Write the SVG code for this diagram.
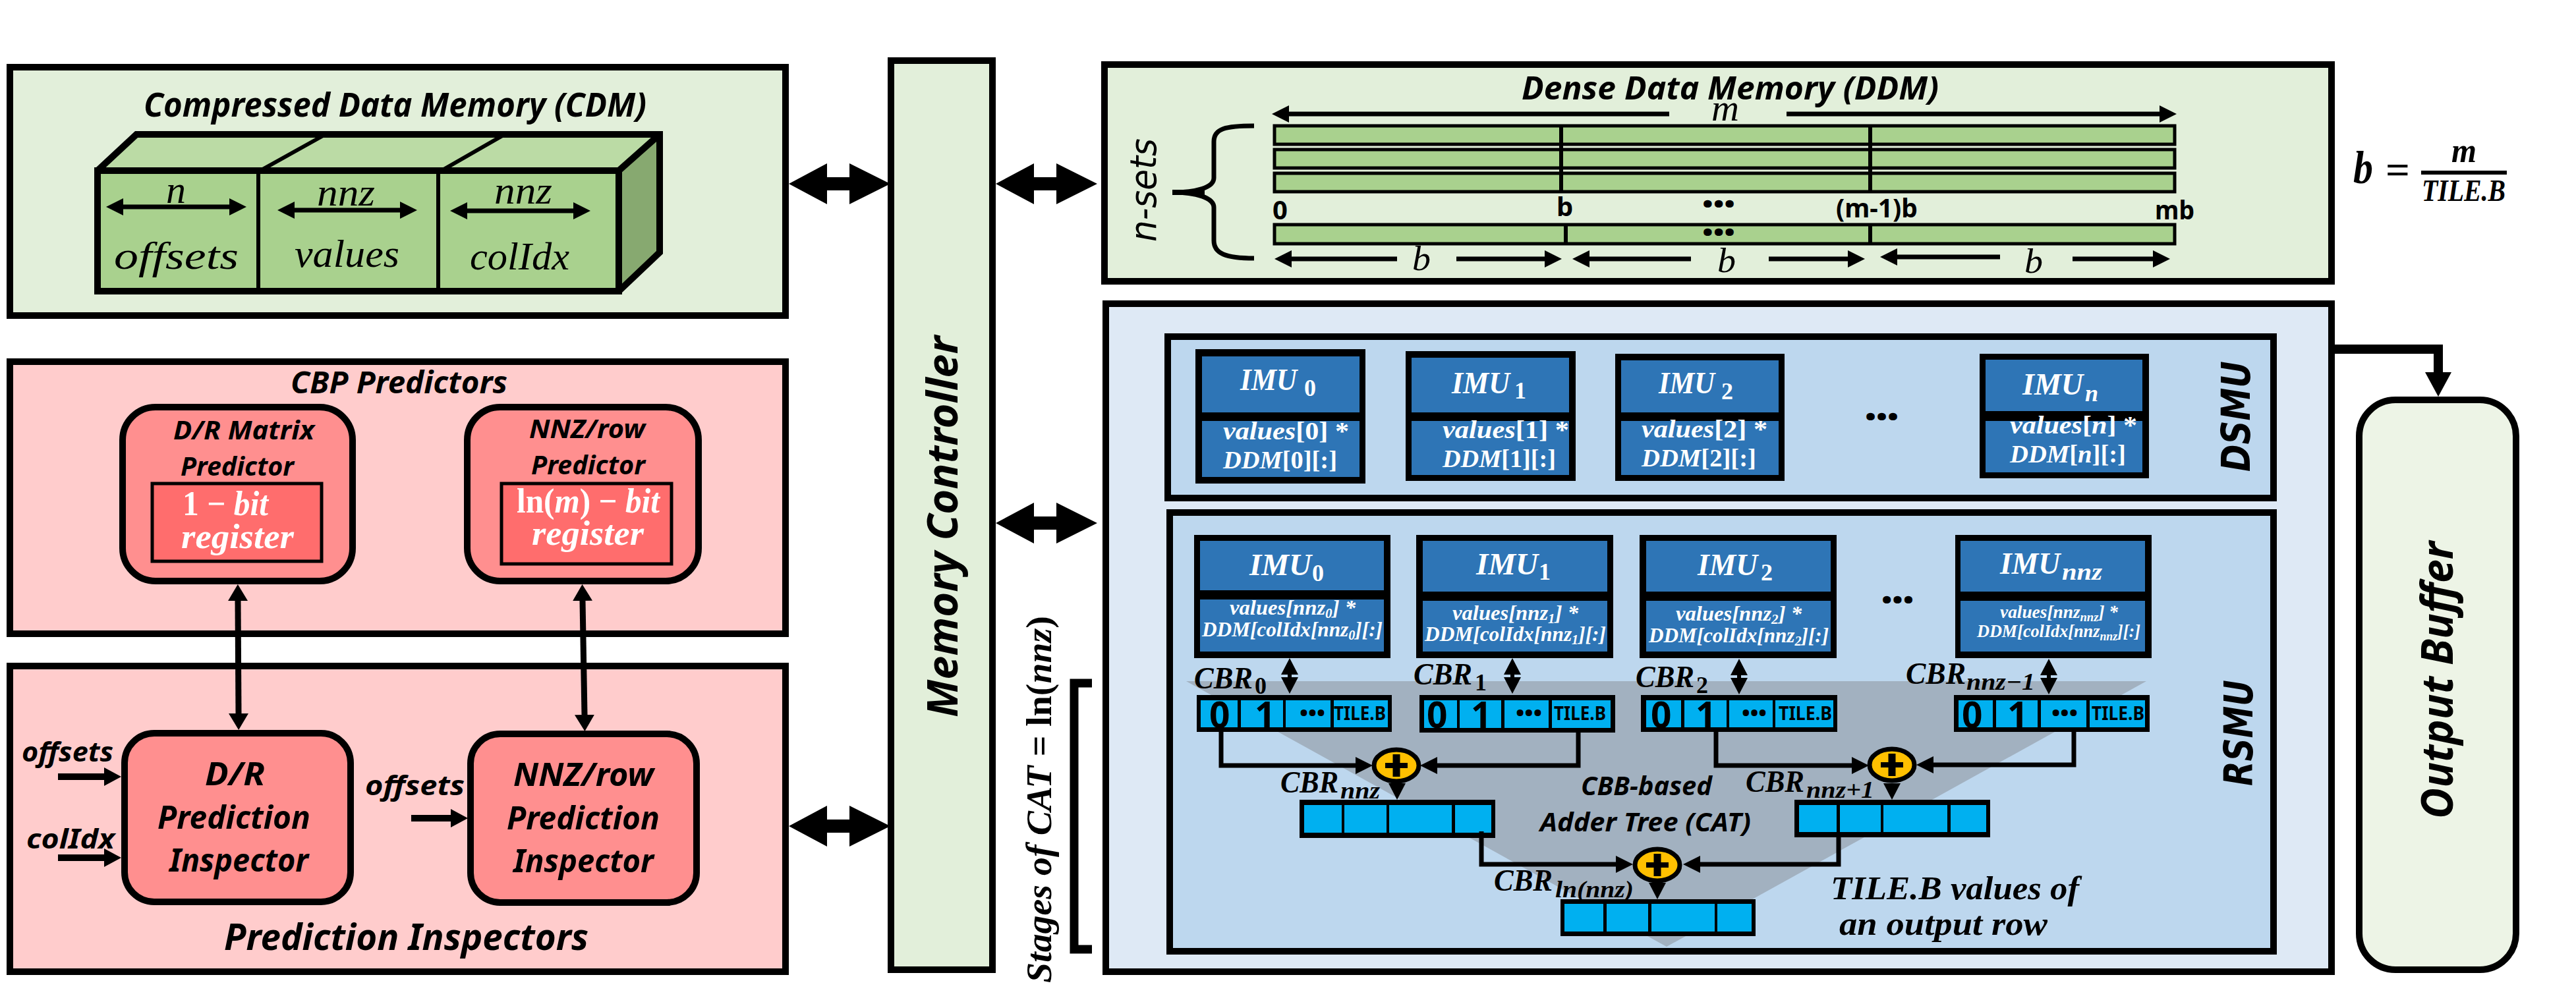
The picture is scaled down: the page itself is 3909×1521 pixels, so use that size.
<svg xmlns="http://www.w3.org/2000/svg" width="3909" height="1521" viewBox="0 0 3909 1521">
<style>
text{fill:#000}
.t{font-family:"Noto Sans","Open Sans",sans-serif;font-weight:700;font-style:italic}
.u{font-family:"Noto Sans","Open Sans",sans-serif;font-weight:700}
.m{font-family:"Liberation Serif",serif;font-weight:700;font-style:italic}
.r{font-family:"Liberation Serif",serif;font-style:italic}
.n{font-style:normal}
text.w,.w text{fill:#fff}
.g{fill:#E2EFDA;stroke:#000;stroke-width:10}
.p{fill:#FFCCCC;stroke:#000;stroke-width:10}
.pi{fill:#FF8F8F;stroke:#000;stroke-width:10}
.reg{fill:#FF6D6D;stroke:#000;stroke-width:5}
.bo{fill:#DEE9F5;stroke:#000;stroke-width:10}
.bi{fill:#BDD7EE;stroke:#000;stroke-width:10}
.k{fill:#000}
.im{fill:#2E75B6}
.c{fill:#00B0F0}
.bar{fill:#A9D18E;stroke:#000;stroke-width:5}
.l{stroke:#000;fill:none}
.add{fill:#FFC000;stroke:#000;stroke-width:7}
</style>
<defs>
<marker id="ah" markerUnits="userSpaceOnUse" viewBox="0 0 26 26" refX="0" refY="13" markerWidth="26" markerHeight="26" orient="auto-start-reverse"><path d="M0 0L26 13L0 26Z"/></marker>
<marker id="ap" markerUnits="userSpaceOnUse" viewBox="0 0 25 30" refX="0" refY="15" markerWidth="25" markerHeight="30" orient="auto-start-reverse"><path d="M0 0L25 15L0 30Z"/></marker>
<marker id="as" markerUnits="userSpaceOnUse" viewBox="0 0 26 28" refX="0" refY="14" markerWidth="26" markerHeight="28" orient="auto"><path d="M0 0L26 14L0 28Z"/></marker>
<marker id="ao" markerUnits="userSpaceOnUse" viewBox="0 0 37 40" refX="0" refY="20" markerWidth="37" markerHeight="40" orient="auto"><path d="M0 0L37 20L0 40Z"/></marker>
<path id="bigdbl" d="M0 0L58-31V-10H92V-31L154 0L92 31V10H58V31Z"/>
<path id="vdbl" d="M0 0L13 25H3V29H13L0 54L-13 29H-3V25H-13Z"/>
<path id="dn" d="M-13-25H13L0 0Z"/>
<path id="plus" d="M-5.5-17H5.5V-4H17V4H5.5V17H-5.5V4H-17V-4H-5.5Z"/>
</defs>
<rect width="3909" height="1521" fill="#fff"/>

<g id="cdm">
<rect class="g" x="15" y="102" width="1177" height="377"/>
<text class="t" x="218" y="177" font-size="50" textLength="763" lengthAdjust="spacingAndGlyphs">Compressed Data Memory (CDM)</text>
<path d="M148 442V262L207 204H1001L940 262V442Z" fill="#A9D18E"/>
<path d="M148 262L207 204H1001L940 262Z" fill="#BBDBA5"/>
<path d="M940 262L1001 204V382L940 442Z" fill="#87A970"/>
<path class="l" stroke-width="10" d="M148 442V259H939V442ZM148 259L207 204H1001V383L939 442M939 259L1001 204"/>
<path class="l" stroke-width="6" d="M392 259V442M665 259V442M395 259L492 205M670 259L764 205"/>
<path class="l" stroke-width="7" marker-start="url(#ah)" marker-end="url(#ah)" d="M187 314H348"/>
<path class="l" stroke-width="7" marker-start="url(#ah)" marker-end="url(#ah)" d="M447 319H607"/>
<path class="l" stroke-width="7" marker-start="url(#ah)" marker-end="url(#ah)" d="M709 320H870"/>
<text class="r" x="252" y="308" font-size="60" textLength="30" lengthAdjust="spacingAndGlyphs">n</text>
<text class="r" x="481" y="312" font-size="60" textLength="88" lengthAdjust="spacingAndGlyphs">nnz</text>
<text class="r" x="750" y="309" font-size="60" textLength="88" lengthAdjust="spacingAndGlyphs">nnz</text>
<text class="r" x="173" y="408" font-size="60" textLength="189" lengthAdjust="spacingAndGlyphs">offsets</text>
<text class="r" x="447" y="405" font-size="60" textLength="159" lengthAdjust="spacingAndGlyphs">values</text>
<text class="r" x="713" y="409" font-size="60" textLength="151" lengthAdjust="spacingAndGlyphs">colIdx</text>
</g>

<g id="cbp-predictors">
<rect class="p" x="15" y="549" width="1177" height="413"/>
<text class="t" x="441" y="597" font-size="46" textLength="329" lengthAdjust="spacingAndGlyphs">CBP Predictors</text>
</g>
<g id="dr-predictor">
<rect class="pi" x="186" y="618" width="349" height="264" rx="50"/>
<text class="t" x="263" y="667" font-size="40" textLength="214" lengthAdjust="spacingAndGlyphs">D/R Matrix</text>
<text class="t" x="274" y="722" font-size="40" textLength="172" lengthAdjust="spacingAndGlyphs">Predictor</text>
<rect class="reg" x="231" y="734" width="257" height="118"/>
<text class="m w" x="277" y="782" font-size="52" textLength="130" lengthAdjust="spacingAndGlyphs"><tspan class="n">1 − </tspan>bit</text>
<text class="m w" x="275" y="832" font-size="52" textLength="171" lengthAdjust="spacingAndGlyphs">register</text>
</g>
<g id="nnz-predictor">
<rect class="pi" x="709" y="618" width="351" height="264" rx="50"/>
<text class="t" x="803" y="665" font-size="40" textLength="176" lengthAdjust="spacingAndGlyphs">NNZ/row</text>
<text class="t" x="806" y="720" font-size="40" textLength="173" lengthAdjust="spacingAndGlyphs">Predictor</text>
<rect class="reg" x="761" y="734" width="258" height="122"/>
<text class="m w" x="784" y="778" font-size="52" textLength="217" lengthAdjust="spacingAndGlyphs"><tspan class="n">ln(</tspan>m<tspan class="n">) − </tspan>bit</text>
<text class="m w" x="807" y="827" font-size="52" textLength="170" lengthAdjust="spacingAndGlyphs">register</text>
</g>

<g id="prediction-inspectors">
<rect class="p" x="15" y="1011" width="1177" height="464"/>
<text class="t" x="340" y="1442" font-size="55" textLength="553" lengthAdjust="spacingAndGlyphs">Prediction Inspectors</text>
<text class="t" x="33" y="1156" font-size="42" textLength="139" lengthAdjust="spacingAndGlyphs">offsets</text>
<text class="t" x="40" y="1288" font-size="42" textLength="134" lengthAdjust="spacingAndGlyphs">colIdx</text>
<text class="t" x="554" y="1207" font-size="42" textLength="151" lengthAdjust="spacingAndGlyphs">offsets</text>
</g>
<g id="dr-inspector">
<rect class="pi" x="189" y="1113" width="343" height="256" rx="45"/>
<text class="t" x="311" y="1192" font-size="49" textLength="91" lengthAdjust="spacingAndGlyphs">D/R</text>
<text class="t" x="239" y="1258" font-size="49" textLength="232" lengthAdjust="spacingAndGlyphs">Prediction</text>
<text class="t" x="257" y="1323" font-size="49" textLength="211" lengthAdjust="spacingAndGlyphs">Inspector</text>
</g>
<g id="nnz-inspector">
<rect class="pi" x="714" y="1114" width="343" height="256" rx="45"/>
<text class="t" x="779" y="1193" font-size="49" textLength="213" lengthAdjust="spacingAndGlyphs">NNZ/row</text>
<text class="t" x="769" y="1259" font-size="49" textLength="232" lengthAdjust="spacingAndGlyphs">Prediction</text>
<text class="t" x="779" y="1324" font-size="49" textLength="213" lengthAdjust="spacingAndGlyphs">Inspector</text>
</g>

<g id="memory-controller">
<rect class="g" x="1352" y="92" width="154" height="1380"/>
<text class="t" transform="rotate(-90 1453 1089)" x="1453" y="1089" font-size="64" textLength="579" lengthAdjust="spacingAndGlyphs">Memory Controller</text>
</g>

<g id="ddm">
<rect class="g" x="1676" y="98" width="1862" height="329"/>
<text class="t" x="2309" y="151" font-size="48" textLength="633" lengthAdjust="spacingAndGlyphs">Dense Data Memory (DDM)</text>
<rect class="bar" x="1934" y="191" width="1366" height="28"/>
<rect class="bar" x="1934" y="227" width="1366" height="28"/>
<rect class="bar" x="1934" y="263" width="1366" height="28"/>
<rect class="bar" x="1934" y="341" width="1366" height="29"/>
<path class="l" stroke-width="6" d="M2369 191V291M2838 191V291M2376 341V370M2838 341V370"/>
<path class="l" stroke-width="7" marker-start="url(#ah)" d="M1956 173H2533"/>
<path class="l" stroke-width="7" marker-end="url(#ah)" d="M2711 173H3277"/>
<text class="r" x="2597" y="183" font-size="56" textLength="42" lengthAdjust="spacingAndGlyphs">m</text>
<path class="l" stroke-width="7" marker-start="url(#ah)" d="M1960 393H2120"/>
<path class="l" stroke-width="7" marker-end="url(#ah)" d="M2210 393H2344"/>
<path class="l" stroke-width="7" marker-start="url(#ah)" d="M2412 393H2566"/>
<path class="l" stroke-width="7" marker-end="url(#ah)" d="M2684 393H2804"/>
<path class="l" stroke-width="7" marker-start="url(#ah)" d="M2879 390H3035"/>
<path class="l" stroke-width="7" marker-end="url(#ah)" d="M3145 393H3267"/>
<text class="r" x="2143" y="410" font-size="52" textLength="28" lengthAdjust="spacingAndGlyphs">b</text>
<text class="r" x="2606" y="413" font-size="52" textLength="28" lengthAdjust="spacingAndGlyphs">b</text>
<text class="r" x="3072" y="414" font-size="52" textLength="28" lengthAdjust="spacingAndGlyphs">b</text>
<text class="u" x="1931" y="333" font-size="40">0</text>
<text class="u" x="2362" y="328" font-size="40">b</text>
<text class="u" x="2583" y="323" font-size="36" textLength="50" lengthAdjust="spacingAndGlyphs">•••</text>
<text class="u" x="2786" y="330" font-size="40" textLength="124" lengthAdjust="spacingAndGlyphs">(m-1)b</text>
<text class="u" x="3270" y="333" font-size="40" textLength="60" lengthAdjust="spacingAndGlyphs">mb</text>
<text class="u" x="2583" y="366" font-size="36" textLength="50" lengthAdjust="spacingAndGlyphs">•••</text>
<path class="l" stroke-width="7" d="M1903 191C1860 191 1842 195 1842 215V270C1842 285 1815 292 1779 292C1815 292 1842 300 1842 315V365C1842 385 1860 392 1903 392"/>
<path d="M1779 288H1828V296H1779Z"/>
<text x="1754" y="367" transform="rotate(-90 1754 367)" font-family="DejaVu Sans" font-style="oblique" font-size="56" textLength="157" lengthAdjust="spacingAndGlyphs">n-sets</text>
</g>

<g id="b-formula">
<text class="m" x="3571" y="278" font-size="70" textLength="30" lengthAdjust="spacingAndGlyphs">b</text>
<text class="m n" x="3620" y="278" font-size="62" textLength="37" lengthAdjust="spacingAndGlyphs">=</text>
<rect x="3674" y="259" width="130" height="6"/>
<text class="m" x="3720" y="246" font-size="52" textLength="38" lengthAdjust="spacingAndGlyphs">m</text>
<text class="m" x="3675" y="305" font-size="46" textLength="127" lengthAdjust="spacingAndGlyphs">TILE.B</text>
</g>

<g id="accelerator">
<rect class="bo" x="1678" y="461" width="1860" height="1014"/>
</g>
<g id="dsmu">
<rect class="bi" x="1772" y="511" width="1678" height="245"/>
<text class="t" style="font-family:'DejaVu Sans'" transform="rotate(-90 3414 716)" x="3414" y="716" font-size="60" textLength="168" lengthAdjust="spacingAndGlyphs">DSMU</text>
<text class="u" x="2830" y="646" font-size="36" textLength="51" lengthAdjust="spacingAndGlyphs">•••</text>
</g>
<g id="dsmu-imu0" class="w">
<rect class="k" x="1814" y="530" width="258" height="204"/>
<rect class="im" x="1824" y="541" width="239" height="85"/><rect class="im" x="1824" y="639" width="239" height="85"/>
<text class="m" y="592" font-size="46"><tspan x="1882" textLength="86" lengthAdjust="spacingAndGlyphs">IMU</tspan><tspan class="n" x="1979" y="601" font-size="36">0</tspan></text>
<text class="m" x="1856" y="667" font-size="38" textLength="191" lengthAdjust="spacingAndGlyphs">values<tspan class="n">[0] *</tspan></text>
<text class="m" x="1856" y="711" font-size="38" textLength="173" lengthAdjust="spacingAndGlyphs">DDM<tspan class="n">[0][:]</tspan></text>
</g>
<g id="dsmu-imu1" class="w">
<rect class="k" x="2133" y="533" width="258" height="197"/>
<rect class="im" x="2142" y="543" width="239" height="83"/><rect class="im" x="2142" y="639" width="239" height="82"/>
<text class="m" y="597" font-size="46"><tspan x="2203" textLength="88" lengthAdjust="spacingAndGlyphs">IMU</tspan><tspan class="n" x="2298" y="605" font-size="36">1</tspan></text>
<text class="m" x="2189" y="665" font-size="38" textLength="192" lengthAdjust="spacingAndGlyphs">values<tspan class="n">[1] *</tspan></text>
<text class="m" x="2189" y="709" font-size="38" textLength="172" lengthAdjust="spacingAndGlyphs">DDM<tspan class="n">[1][:]</tspan></text>
</g>
<g id="dsmu-imu2" class="w">
<rect class="k" x="2451" y="537" width="257" height="193"/>
<rect class="im" x="2460" y="547" width="239" height="79"/><rect class="im" x="2460" y="639" width="239" height="82"/>
<text class="m" y="597" font-size="46"><tspan x="2517" textLength="85" lengthAdjust="spacingAndGlyphs">IMU</tspan><tspan class="n" x="2612" y="606" font-size="36">2</tspan></text>
<text class="m" x="2491" y="664" font-size="38" textLength="191" lengthAdjust="spacingAndGlyphs">values<tspan class="n">[2] *</tspan></text>
<text class="m" x="2491" y="708" font-size="38" textLength="174" lengthAdjust="spacingAndGlyphs">DDM<tspan class="n">[2][:]</tspan></text>
</g>
<g id="dsmu-imun" class="w">
<rect class="k" x="3004" y="537" width="257" height="189"/>
<rect class="im" x="3013" y="546" width="238" height="78"/><rect class="im" x="3013" y="639" width="238" height="78"/>
<text class="m" y="599" font-size="46"><tspan x="3069" textLength="92" lengthAdjust="spacingAndGlyphs">IMU</tspan><tspan x="3164" y="609" font-size="36">n</tspan></text>
<text class="m" x="3050" y="658" font-size="38" textLength="193" lengthAdjust="spacingAndGlyphs">values<tspan class="n">[</tspan>n<tspan class="n">] *</tspan></text>
<text class="m" x="3050" y="702" font-size="38" textLength="176" lengthAdjust="spacingAndGlyphs">DDM<tspan class="n">[</tspan>n<tspan class="n">][:]</tspan></text>
</g>

<g id="rsmu">
<rect class="bi" x="1775" y="778" width="1675" height="666"/>
<path d="M1800 1034H3257L2529 1437Z" fill="#A2B1C0"/>
<text class="t" style="font-family:'DejaVu Sans'" transform="rotate(-90 3418 1193)" x="3418" y="1193" font-size="60" textLength="161" lengthAdjust="spacingAndGlyphs">RSMU</text>
<text class="u" x="2855" y="924" font-size="36" textLength="49" lengthAdjust="spacingAndGlyphs">•••</text>
<text class="t" x="2399" y="1207" font-size="40" textLength="199" lengthAdjust="spacingAndGlyphs">CBB-based</text>
<text class="t" x="2337" y="1262" font-size="40" textLength="320" lengthAdjust="spacingAndGlyphs">Adder Tree (CAT)</text>
<text class="m" x="2778" y="1365" font-size="50" textLength="377" lengthAdjust="spacingAndGlyphs">TILE.B values of</text>
<text class="m" x="2791" y="1419" font-size="50" textLength="316" lengthAdjust="spacingAndGlyphs">an output row</text>
</g>
<g id="rsmu-imu0" class="w">
<rect class="k" x="1812" y="812" width="298" height="187"/>
<rect class="im" x="1821" y="821" width="279" height="75"/><rect class="im" x="1821" y="910" width="279" height="79"/>
<text class="m" y="873" font-size="46"><tspan x="1896" textLength="94" lengthAdjust="spacingAndGlyphs">IMU</tspan><tspan class="n" x="1991" y="882" font-size="36">0</tspan></text>
<text class="m" x="1866" y="933" font-size="31" textLength="191" lengthAdjust="spacingAndGlyphs">values[nnz<tspan dy="5" font-size="20">0</tspan><tspan dy="-5">] *</tspan></text>
<text class="m" x="1824" y="966" font-size="31" textLength="274" lengthAdjust="spacingAndGlyphs">DDM[colIdx[nnz<tspan dy="5" font-size="20">0</tspan><tspan dy="-5">][:]</tspan></text>
</g>
<g id="rsmu-imu1" class="w">
<rect class="k" x="2149" y="812" width="299" height="187"/>
<rect class="im" x="2159" y="821" width="280" height="77"/><rect class="im" x="2159" y="912" width="280" height="77"/>
<text class="m" y="872" font-size="46"><tspan x="2240" textLength="94" lengthAdjust="spacingAndGlyphs">IMU</tspan><tspan class="n" x="2335" y="880" font-size="36">1</tspan></text>
<text class="m" x="2204" y="941" font-size="31" textLength="191" lengthAdjust="spacingAndGlyphs">values[nnz<tspan dy="5" font-size="20">1</tspan><tspan dy="-5">] *</tspan></text>
<text class="m" x="2162" y="973" font-size="31" textLength="275" lengthAdjust="spacingAndGlyphs">DDM[colIdx[nnz<tspan dy="5" font-size="20">1</tspan><tspan dy="-5">][:]</tspan></text>
</g>
<g id="rsmu-imu2" class="w">
<rect class="k" x="2488" y="812" width="299" height="187"/>
<rect class="im" x="2498" y="821" width="280" height="77"/><rect class="im" x="2498" y="912" width="280" height="77"/>
<text class="m" y="873" font-size="46"><tspan x="2576" textLength="91" lengthAdjust="spacingAndGlyphs">IMU</tspan><tspan class="n" x="2672" y="881" font-size="36">2</tspan></text>
<text class="m" x="2543" y="942" font-size="31" textLength="191" lengthAdjust="spacingAndGlyphs">values[nnz<tspan dy="5" font-size="20">2</tspan><tspan dy="-5">] *</tspan></text>
<text class="m" x="2502" y="975" font-size="31" textLength="273" lengthAdjust="spacingAndGlyphs">DDM[colIdx[nnz<tspan dy="5" font-size="20">2</tspan><tspan dy="-5">][:]</tspan></text>
</g>
<g id="rsmu-imunnz" class="w">
<rect class="k" x="2967" y="812" width="298" height="187"/>
<rect class="im" x="2975" y="821" width="280" height="77"/><rect class="im" x="2975" y="912" width="280" height="77"/>
<text class="m" y="871" font-size="46"><tspan x="3035" textLength="91" lengthAdjust="spacingAndGlyphs">IMU</tspan><tspan x="3129" y="880" font-size="36" textLength="61" lengthAdjust="spacingAndGlyphs">nnz</tspan></text>
<text class="m" x="3035" y="938" font-size="28" textLength="179" lengthAdjust="spacingAndGlyphs">values[nnz<tspan dy="5" font-size="19">nnz</tspan><tspan dy="-5">] *</tspan></text>
<text class="m" x="3000" y="967" font-size="28" textLength="248" lengthAdjust="spacingAndGlyphs">DDM[colIdx[nnz<tspan dy="5" font-size="19">nnz</tspan><tspan dy="-5">][:]</tspan></text>
</g>

<g id="cbr0">
<rect class="k" x="1816" y="1055" width="296" height="56"/>
<rect class="c" x="1822" y="1063" width="56" height="41"/><rect class="c" x="1883" y="1063" width="64" height="41"/><rect class="c" x="1951" y="1063" width="68" height="41"/><rect class="c" x="2024" y="1063" width="82" height="41"/>
<text class="u" x="1835" y="1105" font-size="55">0</text><text class="u" x="1904" y="1105" font-size="55">1</text>
<text class="u" x="1972" y="1094" font-size="32" textLength="39" lengthAdjust="spacingAndGlyphs">•••</text>
<text class="u" x="2024" y="1093" font-size="28" textLength="79" lengthAdjust="spacingAndGlyphs">TILE.B</text>
<text class="m" y="1045" font-size="46"><tspan x="1812" textLength="89" lengthAdjust="spacingAndGlyphs">CBR</tspan><tspan class="n" x="1904" y="1053" font-size="36">0</tspan></text>
</g>
<g id="cbr1">
<rect class="k" x="2154" y="1055" width="297" height="57"/>
<rect class="c" x="2161" y="1063" width="50" height="42"/><rect class="c" x="2215" y="1063" width="63" height="42"/><rect class="c" x="2283" y="1063" width="67" height="42"/><rect class="c" x="2355" y="1063" width="89" height="42"/>
<text class="u" x="2165" y="1105" font-size="55">0</text><text class="u" x="2232" y="1105" font-size="55">1</text>
<text class="u" x="2300" y="1094" font-size="32" textLength="40" lengthAdjust="spacingAndGlyphs">•••</text>
<text class="u" x="2358" y="1093" font-size="28" textLength="79" lengthAdjust="spacingAndGlyphs">TILE.B</text>
<text class="m" y="1039" font-size="46"><tspan x="2145" textLength="89" lengthAdjust="spacingAndGlyphs">CBR</tspan><tspan class="n" x="2238" y="1048" font-size="36">1</tspan></text>
</g>
<g id="cbr2">
<rect class="k" x="2490" y="1055" width="298" height="56"/>
<rect class="c" x="2498" y="1063" width="53" height="41"/><rect class="c" x="2556" y="1063" width="64" height="41"/><rect class="c" x="2624" y="1063" width="66" height="41"/><rect class="c" x="2694" y="1063" width="88" height="41"/>
<text class="u" x="2505" y="1105" font-size="55">0</text><text class="u" x="2573" y="1105" font-size="55">1</text>
<text class="u" x="2643" y="1094" font-size="32" textLength="38" lengthAdjust="spacingAndGlyphs">•••</text>
<text class="u" x="2699" y="1093" font-size="28" textLength="81" lengthAdjust="spacingAndGlyphs">TILE.B</text>
<text class="m" y="1043" font-size="46"><tspan x="2482" textLength="89" lengthAdjust="spacingAndGlyphs">CBR</tspan><tspan class="n" x="2574" y="1052" font-size="36">2</tspan></text>
</g>
<g id="cbr-nnz-1">
<rect class="k" x="2965" y="1055" width="297" height="56"/>
<rect class="c" x="2972" y="1063" width="52" height="41"/><rect class="c" x="3029" y="1063" width="63" height="41"/><rect class="c" x="3097" y="1063" width="69" height="41"/><rect class="c" x="3171" y="1063" width="84" height="41"/>
<text class="u" x="2977" y="1105" font-size="55">0</text><text class="u" x="3046" y="1105" font-size="55">1</text>
<text class="u" x="3113" y="1094" font-size="32" textLength="40" lengthAdjust="spacingAndGlyphs">•••</text>
<text class="u" x="3174" y="1093" font-size="28" textLength="80" lengthAdjust="spacingAndGlyphs">TILE.B</text>
<text class="m" y="1038" font-size="46"><tspan x="2892" textLength="91" lengthAdjust="spacingAndGlyphs">CBR</tspan><tspan x="2984" y="1047" font-size="36" textLength="104" lengthAdjust="spacingAndGlyphs">nnz−1</tspan></text>
</g>
<g id="cbr-nnz">
<rect class="k" x="1972" y="1214" width="297" height="58"/>
<rect class="c" x="1979" y="1222" width="57" height="42"/><rect class="c" x="2040" y="1222" width="64" height="42"/><rect class="c" x="2108" y="1222" width="95" height="42"/><rect class="c" x="2208" y="1222" width="55" height="42"/>
<text class="m" y="1203" font-size="46"><tspan x="1943" textLength="88" lengthAdjust="spacingAndGlyphs">CBR</tspan><tspan x="2034" y="1212" font-size="36" textLength="60" lengthAdjust="spacingAndGlyphs">nnz</tspan></text>
</g>
<g id="cbr-nnz1">
<rect class="k" x="2723" y="1214" width="297" height="57"/>
<rect class="c" x="2730" y="1222" width="57" height="41"/><rect class="c" x="2792" y="1222" width="62" height="41"/><rect class="c" x="2858" y="1222" width="97" height="41"/><rect class="c" x="2960" y="1222" width="54" height="41"/>
<text class="m" y="1202" font-size="46"><tspan x="2649" textLength="89" lengthAdjust="spacingAndGlyphs">CBR</tspan><tspan x="2741" y="1211" font-size="36" textLength="103" lengthAdjust="spacingAndGlyphs">nnz+1</tspan></text>
</g>
<g id="cbr-ln">
<rect class="k" x="2368" y="1365" width="296" height="56"/>
<rect class="c" x="2374" y="1372" width="59" height="42"/><rect class="c" x="2438" y="1372" width="63" height="42"/><rect class="c" x="2506" y="1372" width="96" height="42"/><rect class="c" x="2606" y="1372" width="52" height="42"/>
<text class="m" y="1352" font-size="46"><tspan x="2267" textLength="89" lengthAdjust="spacingAndGlyphs">CBR</tspan><tspan x="2360" y="1362" font-size="36" textLength="119" lengthAdjust="spacingAndGlyphs">ln(nnz)</tspan></text>
</g>
<g id="adder1"><ellipse class="add" cx="2119" cy="1162" rx="34" ry="24"/><use href="#plus" x="2119" y="1162"/></g>
<g id="adder2"><ellipse class="add" cx="2871" cy="1161" rx="34" ry="24"/><use href="#plus" x="2871" y="1161"/></g>
<g id="adder3"><ellipse class="add" cx="2515" cy="1313" rx="34" ry="24"/><use href="#plus" x="2515" y="1313"/></g>

<g id="output-buffer">
<rect class="g" style="fill:#EDF4E6" x="3580" y="607" width="238" height="865" rx="55"/>
<text class="t" transform="rotate(-90 3722 1243)" x="3722" y="1243" font-size="66" textLength="421" lengthAdjust="spacingAndGlyphs">Output Buffer</text>
</g>

<g id="stages">
<text class="m" transform="rotate(-90 1595 1492)" x="1595" y="1492" font-size="54" textLength="557" lengthAdjust="spacingAndGlyphs">Stages of CAT = <tspan class="n">ln(</tspan>nnz<tspan class="n">)</tspan></text>
<path class="l" stroke-width="13" d="M1657 1037H1630V1441H1657"/>
</g>

<g id="connectors">
<use href="#bigdbl" x="1197" y="279"/>
<use href="#bigdbl" x="1197" y="1254"/>
<use href="#bigdbl" x="1511" y="279"/>
<use href="#bigdbl" x="1511" y="794"/>
<path class="l" stroke-width="9" marker-start="url(#ap)" marker-end="url(#ap)" d="M361 912L362 1083"/>
<path class="l" stroke-width="9" marker-start="url(#ap)" marker-end="url(#ap)" d="M884 912L887 1085"/>
<path class="l" stroke-width="10" marker-end="url(#as)" d="M88 1179H158"/>
<path class="l" stroke-width="10" marker-end="url(#as)" d="M88 1302H158"/>
<path class="l" stroke-width="10" marker-end="url(#as)" d="M624 1242H684"/>
<path class="l" stroke-width="14" marker-end="url(#ao)" d="M3543 530H3700V565"/>
<use href="#vdbl" x="1957" y="999"/>
<use href="#vdbl" x="2295" y="999"/>
<use href="#vdbl" x="2639" y="1000"/>
<use href="#vdbl" x="3109" y="1000"/>
<path class="l" stroke-width="7" marker-end="url(#ah)" d="M1853 1105V1162H2057"/>
<path class="l" stroke-width="7" marker-end="url(#ah)" d="M2395 1105V1162H2181"/>
<path class="l" stroke-width="7" marker-end="url(#ah)" d="M2604 1105V1162H2810"/>
<path class="l" stroke-width="7" marker-end="url(#ah)" d="M3147 1105V1161H2934"/>
<path class="l" stroke-width="7" marker-end="url(#ah)" d="M2248 1262V1312H2452"/>
<path class="l" stroke-width="7" marker-end="url(#ah)" d="M2790 1264V1312H2580"/>
<use href="#dn" x="2120" y="1214"/>
<use href="#dn" x="2871" y="1214"/>
<use href="#dn" x="2515" y="1365"/>
</g>
</svg>
